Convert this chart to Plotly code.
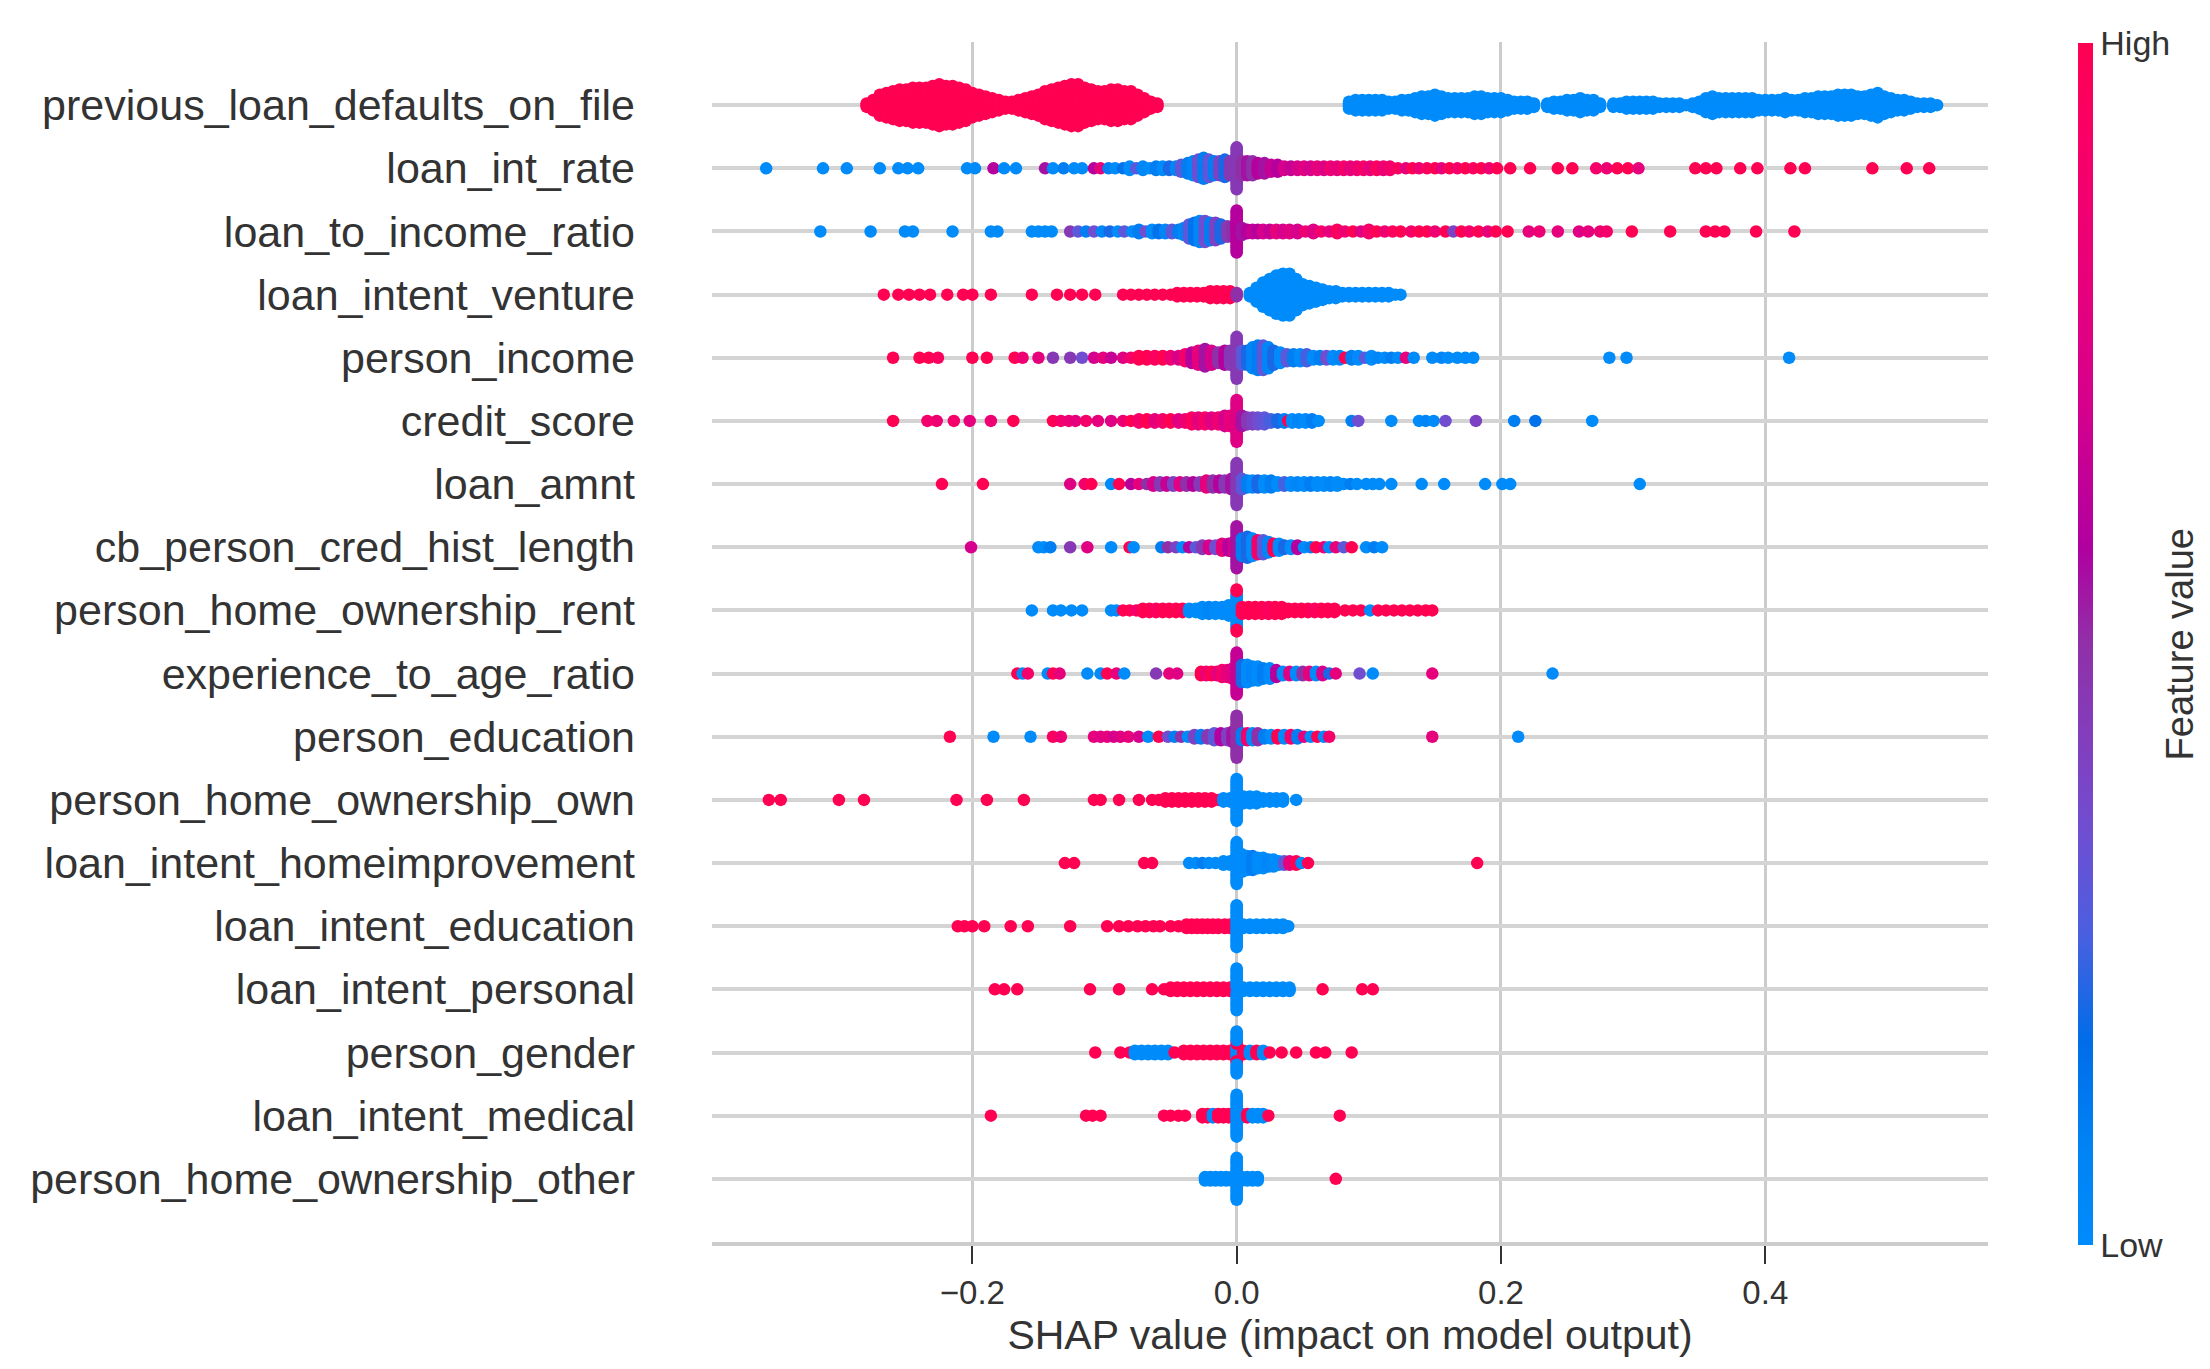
import numpy as np
import plotly.graph_objects as go

# feature order, top to bottom (as in the SHAP summary plot)
features = [
    "previous_loan_defaults_on_file", "loan_int_rate", "loan_to_income_ratio",
    "loan_intent_venture", "person_income", "credit_score", "loan_amnt",
    "cb_person_cred_hist_length", "person_home_ownership_rent",
    "experience_to_age_ratio", "person_education", "person_home_ownership_own",
    "loan_intent_homeimprovement", "loan_intent_education", "loan_intent_personal",
    "person_gender", "loan_intent_medical", "person_home_ownership_other",
]

# each entry: (shap value, number of samples at that value, feature value 0=low .. 1=high)
prev_defaults = [
    (-0.280, 3, 1), (-0.275, 7, 1), (-0.270, 13, 1), (-0.265, 15, 1), (-0.260, 17, 1),
    (-0.255, 19, 1), (-0.250, 19, 1), (-0.245, 21, 1), (-0.240, 21, 1), (-0.235, 21, 1),
    (-0.230, 23, 1), (-0.225, 25, 1), (-0.220, 23, 1), (-0.215, 23, 1), (-0.210, 21, 1),
    (-0.205, 19, 1), (-0.200, 15, 1), (-0.195, 13, 1), (-0.190, 11, 1), (-0.185, 9, 1),
    (-0.180, 7, 1), (-0.175, 5, 1), (-0.170, 5, 1), (-0.165, 7, 1), (-0.160, 9, 1),
    (-0.155, 11, 1), (-0.150, 13, 1), (-0.145, 17, 1), (-0.140, 19, 1), (-0.135, 21, 1),
    (-0.130, 23, 1), (-0.125, 25, 1), (-0.120, 25, 1), (-0.115, 21, 1), (-0.110, 19, 1),
    (-0.105, 17, 1), (-0.100, 17, 1), (-0.095, 19, 1), (-0.090, 19, 1), (-0.085, 17, 1),
    (-0.080, 17, 1), (-0.075, 13, 1), (-0.070, 9, 1), (-0.065, 5, 1), (-0.060, 3, 1),
    (0.085, 5, 0), (0.090, 7, 0), (0.095, 7, 0), (0.100, 7, 0), (0.105, 7, 0),
    (0.110, 7, 0), (0.115, 5, 0), (0.120, 5, 0), (0.125, 7, 0), (0.130, 7, 0),
    (0.135, 9, 0), (0.140, 11, 0), (0.145, 11, 0), (0.150, 13, 0), (0.155, 11, 0),
    (0.160, 9, 0), (0.165, 9, 0), (0.170, 9, 0), (0.175, 9, 0), (0.180, 11, 0),
    (0.185, 11, 0), (0.190, 9, 0), (0.195, 9, 0), (0.200, 9, 0), (0.205, 7, 0),
    (0.210, 5, 0), (0.215, 5, 0), (0.220, 5, 0), (0.225, 3, 0),
    (0.235, 3, 0), (0.240, 5, 0), (0.245, 5, 0), (0.250, 7, 0), (0.255, 7, 0),
    (0.260, 9, 0), (0.265, 7, 0), (0.270, 7, 0), (0.275, 3, 0),
    (0.285, 3, 0), (0.290, 3, 0), (0.295, 5, 0), (0.300, 5, 0), (0.305, 5, 0),
    (0.310, 5, 0), (0.315, 5, 0), (0.320, 3, 0), (0.325, 3, 0), (0.330, 3, 0),
    (0.335, 3, 0), (0.340, 1, 0),
    (0.345, 3, 0), (0.350, 5, 0), (0.355, 9, 0), (0.360, 11, 0), (0.365, 9, 0),
    (0.370, 9, 0), (0.375, 9, 0), (0.380, 9, 0), (0.385, 9, 0), (0.390, 9, 0),
    (0.395, 7, 0), (0.400, 7, 0), (0.405, 7, 0), (0.410, 7, 0), (0.415, 9, 0),
    (0.420, 7, 0), (0.425, 7, 0), (0.430, 9, 0), (0.435, 9, 0), (0.440, 11, 0),
    (0.445, 11, 0), (0.450, 11, 0), (0.455, 13, 0), (0.460, 13, 0), (0.465, 13, 0),
    (0.470, 11, 0), (0.475, 11, 0), (0.480, 13, 0), (0.485, 15, 0), (0.490, 11, 0),
    (0.495, 9, 0), (0.500, 7, 0), (0.505, 7, 0), (0.510, 5, 0), (0.515, 3, 0),
    (0.520, 3, 0), (0.525, 3, 0), (0.530, 1, 0),
]

loan_int_rate = [
    (-0.356, 1, 0), (-0.313, 1, 0), (-0.295, 1, 0), (-0.270, 1, 0), (-0.256, 1, 0),
    (-0.249, 1, 0), (-0.241, 1, 0), (-0.204, 1, 0), (-0.198, 1, 0), (-0.184, 1, 0.6),
    (-0.176, 1, 0), (-0.167, 1, 0), (-0.145, 1, 0.55), (-0.139, 1, 0), (-0.131, 1, 0.1),
    (-0.123, 1, 0), (-0.117, 1, 0), (-0.108, 1, 0.6), (-0.103, 1, 0.8), (-0.097, 1, 0.1),
    (-0.092, 1, 0), (-0.086, 1, 0.15), (-0.081, 3, 0), (-0.076, 1, 0.3), (-0.071, 3, 0.05),
    (-0.066, 1, 0), (-0.061, 3, 0.1), (-0.056, 3, 0), (-0.051, 3, 0.2), (-0.046, 3, 0.05),
    (-0.042, 5, 0.3), (-0.037, 7, 0.1), (-0.033, 9, 0.05), (-0.029, 11, 0.35), (-0.025, 13, 0.1),
    (-0.021, 11, 0.3), (-0.017, 9, 0.1), (-0.013, 9, 0.4), (-0.009, 11, 0.2), (-0.005, 9, 0.45),
    (0.000, 25, 0.45), (0.004, 9, 0.5), (0.008, 9, 0.55), (0.012, 9, 0.5), (0.016, 7, 0.6),
    (0.021, 7, 0.55), (0.026, 5, 0.65), (0.031, 5, 0.6), (0.036, 3, 0.7), (0.041, 3, 0.65),
    (0.046, 3, 0.7), (0.051, 3, 0.75), (0.056, 3, 0.7), (0.061, 3, 0.8), (0.066, 3, 0.75),
    (0.071, 3, 0.85), (0.076, 3, 0.8), (0.081, 3, 0.9), (0.086, 3, 0.8), (0.091, 3, 0.85),
    (0.096, 3, 0.9), (0.101, 3, 0.8), (0.106, 3, 0.95), (0.111, 3, 0.85), (0.116, 3, 0.9),
    (0.122, 1, 0.95), (0.128, 1, 0.8), (0.133, 1, 1), (0.138, 1, 0.85), (0.144, 1, 0.95),
    (0.150, 1, 1), (0.155, 1, 0.8), (0.161, 1, 1), (0.167, 1, 0.9), (0.173, 1, 1),
    (0.179, 1, 0.95), (0.185, 1, 1), (0.191, 1, 0.85), (0.197, 1, 1),
    (0.207, 1, 1), (0.222, 1, 1), (0.243, 1, 1), (0.254, 1, 1), (0.272, 1, 0.9),
    (0.280, 1, 0.85), (0.288, 1, 1), (0.296, 1, 1), (0.304, 1, 0.8), (0.347, 1, 1),
    (0.355, 1, 1), (0.363, 1, 1), (0.381, 1, 1), (0.394, 1, 1), (0.419, 1, 1),
    (0.430, 1, 1), (0.481, 1, 1), (0.507, 1, 1), (0.524, 1, 1),
]

loan_to_income = [
    (-0.315, 1, 0), (-0.277, 1, 0), (-0.251, 1, 0), (-0.245, 1, 0), (-0.215, 1, 0),
    (-0.186, 1, 0), (-0.181, 1, 0), (-0.155, 1, 0), (-0.150, 1, 0), (-0.145, 1, 0),
    (-0.140, 1, 0), (-0.126, 1, 0.45), (-0.120, 1, 0.3), (-0.114, 1, 0.1), (-0.108, 1, 0.35),
    (-0.102, 1, 0.05), (-0.096, 1, 0.2), (-0.090, 1, 0), (-0.085, 1, 0.3), (-0.079, 1, 0),
    (-0.074, 3, 0.1), (-0.069, 1, 0.35), (-0.064, 3, 0), (-0.059, 3, 0.15), (-0.054, 3, 0.05),
    (-0.049, 3, 0.3), (-0.044, 3, 0.1), (-0.040, 5, 0.05), (-0.036, 9, 0.3), (-0.032, 11, 0.15),
    (-0.028, 13, 0.05), (-0.024, 13, 0.35), (-0.020, 11, 0.1), (-0.016, 11, 0.4), (-0.012, 9, 0.2),
    (-0.007, 7, 0.45), (-0.003, 7, 0.5), (0.000, 25, 0.6), (0.004, 5, 0.55), (0.008, 3, 0.6),
    (0.012, 3, 0.65), (0.016, 3, 0.6), (0.020, 3, 0.7), (0.025, 3, 0.65), (0.030, 3, 0.8),
    (0.035, 3, 0.7), (0.040, 3, 0.75), (0.046, 3, 0.7), (0.052, 1, 0.85), (0.058, 3, 0.75),
    (0.064, 1, 0.9), (0.070, 1, 0.8), (0.076, 3, 0.95), (0.082, 1, 0.85), (0.088, 1, 1),
    (0.094, 1, 0.75), (0.100, 3, 0.9), (0.106, 1, 1), (0.112, 1, 0.85), (0.118, 1, 0.95),
    (0.124, 1, 1), (0.132, 1, 0.9), (0.138, 1, 1), (0.144, 1, 1), (0.150, 1, 0.85),
    (0.158, 1, 1), (0.164, 1, 0.4), (0.170, 1, 1), (0.176, 1, 0.9), (0.183, 1, 1),
    (0.190, 1, 0.8), (0.196, 1, 1), (0.205, 1, 1), (0.221, 1, 0.8), (0.229, 1, 0.85),
    (0.243, 1, 0.8), (0.259, 1, 0.75), (0.266, 1, 0.8), (0.275, 1, 0.85), (0.280, 1, 0.9),
    (0.299, 1, 1), (0.328, 1, 1), (0.355, 1, 1), (0.362, 1, 1), (0.369, 1, 1),
    (0.393, 1, 1), (0.422, 1, 1),
]

intent_venture = [
    (-0.267, 1, 1), (-0.256, 1, 1), (-0.248, 1, 1), (-0.240, 1, 1), (-0.232, 1, 1),
    (-0.219, 1, 1), (-0.207, 1, 1), (-0.200, 1, 1), (-0.186, 1, 1), (-0.155, 1, 1),
    (-0.136, 1, 1), (-0.126, 1, 1), (-0.117, 1, 1), (-0.107, 1, 1), (-0.086, 1, 1),
    (-0.080, 1, 1), (-0.074, 1, 1), (-0.068, 1, 1), (-0.062, 1, 1), (-0.056, 1, 1),
    (-0.050, 1, 1), (-0.045, 3, 1), (-0.040, 3, 1), (-0.035, 3, 1), (-0.030, 3, 1),
    (-0.025, 3, 1), (-0.020, 5, 1), (-0.015, 5, 1), (-0.010, 5, 1), (-0.005, 5, 1),
    (0.000, 3, 0.5),
    (0.010, 3, 0), (0.015, 9, 0), (0.020, 15, 0), (0.025, 19, 0), (0.030, 23, 0),
    (0.035, 25, 0), (0.040, 25, 0), (0.045, 19, 0), (0.050, 13, 0), (0.055, 11, 0),
    (0.060, 9, 0), (0.065, 7, 0), (0.070, 5, 0), (0.075, 5, 0), (0.080, 3, 0),
    (0.085, 3, 0), (0.090, 3, 0), (0.095, 3, 0), (0.100, 3, 0), (0.105, 3, 0),
    (0.110, 3, 0), (0.115, 3, 0), (0.120, 1, 0), (0.124, 1, 0),
]

person_income = [
    (-0.260, 1, 1), (-0.240, 1, 1), (-0.233, 1, 1), (-0.226, 1, 0.95), (-0.200, 1, 1),
    (-0.189, 1, 1), (-0.168, 1, 1), (-0.162, 1, 0.85), (-0.150, 1, 0.8), (-0.139, 1, 0.45),
    (-0.126, 1, 0.45), (-0.117, 1, 0.35), (-0.108, 1, 0.7), (-0.101, 1, 0.8), (-0.095, 1, 0.65),
    (-0.086, 1, 0.75), (-0.080, 1, 0.9), (-0.074, 3, 1), (-0.068, 3, 1), (-0.062, 3, 0.95),
    (-0.056, 3, 1), (-0.050, 3, 0.85), (-0.044, 3, 0.7), (-0.039, 5, 0.9), (-0.034, 7, 0.6),
    (-0.029, 9, 0.8), (-0.024, 11, 0.55), (-0.019, 9, 0.7), (-0.014, 7, 0.5), (-0.009, 9, 0.6),
    (-0.005, 9, 0.45), (0.000, 25, 0.45), (0.004, 9, 0.3), (0.008, 9, 0.2), (0.012, 13, 0.05),
    (0.016, 15, 0.1), (0.020, 15, 0.3), (0.024, 13, 0.05), (0.028, 9, 0.2), (0.033, 7, 0),
    (0.038, 5, 0.3), (0.043, 5, 0.1), (0.048, 5, 0), (0.053, 5, 0.25), (0.058, 3, 0),
    (0.063, 3, 0.1), (0.068, 3, 0.35), (0.073, 3, 0), (0.078, 3, 0.05), (0.082, 1, 1),
    (0.087, 3, 0.1), (0.092, 3, 0), (0.097, 1, 0.3), (0.102, 3, 0), (0.107, 1, 0.05),
    (0.112, 1, 0), (0.117, 1, 0.1), (0.122, 1, 0), (0.128, 1, 0.8), (0.134, 1, 0),
    (0.148, 1, 0), (0.155, 1, 0.05), (0.160, 1, 0), (0.167, 1, 0), (0.173, 1, 0),
    (0.179, 1, 0), (0.282, 1, 0), (0.295, 1, 0), (0.418, 1, 0),
]

credit_score = [
    (-0.260, 1, 1), (-0.234, 1, 0.9), (-0.227, 1, 0.85), (-0.214, 1, 0.9), (-0.202, 1, 0.8),
    (-0.186, 1, 0.85), (-0.169, 1, 1), (-0.139, 1, 1), (-0.133, 1, 0.9), (-0.127, 1, 0.85),
    (-0.122, 1, 0.8), (-0.114, 1, 0.9), (-0.105, 1, 0.8), (-0.095, 1, 0.75), (-0.086, 1, 0.85),
    (-0.080, 1, 1), (-0.074, 3, 0.9), (-0.068, 3, 1), (-0.062, 3, 0.8), (-0.056, 3, 0.9),
    (-0.050, 3, 1), (-0.044, 3, 0.75), (-0.039, 3, 0.85), (-0.034, 5, 0.95), (-0.029, 5, 0.8),
    (-0.024, 5, 0.9), (-0.019, 5, 0.75), (-0.014, 5, 0.85), (-0.009, 7, 0.7), (-0.005, 7, 0.8),
    (0.000, 25, 0.75), (0.004, 7, 0.55), (0.008, 5, 0.45), (0.012, 5, 0.4), (0.016, 5, 0.35),
    (0.021, 5, 0.3), (0.026, 3, 0.25), (0.031, 3, 0.2), (0.036, 3, 0.1), (0.039, 1, 1),
    (0.042, 3, 0), (0.047, 3, 0.05), (0.052, 3, 0), (0.057, 3, 0.1), (0.062, 1, 0),
    (0.087, 1, 0.1), (0.092, 1, 0.35), (0.117, 1, 0), (0.138, 1, 0), (0.143, 1, 0.05),
    (0.149, 1, 0), (0.158, 1, 0.35), (0.181, 1, 0.4), (0.210, 1, 0.1), (0.226, 1, 0.15),
    (0.269, 1, 0),
]

loan_amnt = [
    (-0.223, 1, 1), (-0.192, 1, 1), (-0.126, 1, 0.75), (-0.115, 1, 0.9), (-0.110, 1, 1),
    (-0.095, 1, 0), (-0.089, 1, 1), (-0.080, 1, 0.6), (-0.074, 1, 0.8), (-0.068, 1, 0.5),
    (-0.063, 3, 0.7), (-0.058, 3, 0.45), (-0.053, 3, 0.65), (-0.048, 3, 0.4), (-0.043, 3, 0.75),
    (-0.038, 3, 0.5), (-0.033, 3, 0.6), (-0.028, 3, 0.45), (-0.023, 5, 0.8), (-0.018, 5, 0.5),
    (-0.013, 5, 0.6), (-0.009, 5, 0.45), (-0.004, 7, 0.55), (0.000, 25, 0.45), (0.004, 7, 0.3),
    (0.008, 5, 0.1), (0.012, 5, 0), (0.016, 5, 0.2), (0.021, 5, 0), (0.026, 5, 0.1),
    (0.031, 3, 0), (0.036, 3, 0.25), (0.041, 3, 0), (0.046, 3, 0.05), (0.051, 3, 0),
    (0.056, 3, 0.1), (0.061, 3, 0), (0.066, 3, 0), (0.071, 3, 0.05), (0.076, 3, 0),
    (0.081, 1, 0), (0.086, 1, 0.1), (0.091, 1, 0), (0.098, 1, 0), (0.103, 1, 0),
    (0.108, 1, 0), (0.117, 1, 0), (0.140, 1, 0), (0.157, 1, 0), (0.188, 1, 0),
    (0.201, 1, 0), (0.207, 1, 0), (0.305, 1, 0),
]

cred_hist_length = [
    (-0.201, 1, 0.7), (-0.150, 1, 0), (-0.146, 1, 0), (-0.141, 1, 0.1), (-0.126, 1, 0.45),
    (-0.113, 1, 0.75), (-0.095, 1, 0), (-0.081, 1, 1), (-0.078, 1, 0), (-0.057, 1, 0.1),
    (-0.052, 1, 0.5), (-0.046, 1, 0.4), (-0.041, 1, 0), (-0.036, 1, 0.6), (-0.031, 1, 0.3),
    (-0.026, 3, 0.45), (-0.021, 3, 0.7), (-0.016, 3, 0.35), (-0.011, 5, 0.8), (-0.006, 5, 0.6),
    (-0.002, 7, 0.7), (0.000, 25, 0.55), (0.004, 11, 0.1), (0.008, 13, 0.2), (0.012, 11, 0),
    (0.016, 9, 0.9), (0.020, 9, 0.3), (0.024, 7, 0.05), (0.028, 5, 1), (0.032, 5, 0),
    (0.036, 3, 0.2), (0.041, 3, 0), (0.046, 3, 0.6), (0.051, 1, 0), (0.056, 1, 0.1),
    (0.060, 1, 1), (0.066, 1, 0.85), (0.070, 1, 0), (0.075, 1, 0.8), (0.081, 1, 0.3),
    (0.087, 1, 1), (0.098, 1, 0), (0.104, 1, 0.1), (0.110, 1, 0),
]

home_rent = [
    (-0.155, 1, 0), (-0.139, 1, 0), (-0.133, 1, 0), (-0.125, 1, 0), (-0.117, 1, 0),
    (-0.095, 1, 0), (-0.091, 1, 0), (-0.086, 1, 1), (-0.081, 1, 1), (-0.076, 1, 0.9),
    (-0.071, 3, 1), (-0.066, 3, 1), (-0.061, 3, 0.95), (-0.056, 3, 1), (-0.051, 3, 1),
    (-0.046, 3, 1), (-0.041, 3, 1), (-0.036, 3, 0), (-0.031, 3, 0), (-0.026, 5, 0),
    (-0.021, 5, 0.05), (-0.016, 5, 0), (-0.011, 5, 0), (-0.006, 7, 0), (0.000, 21, 0),
    (0.000, 4, 1), (0.004, 5, 1), (0.009, 5, 1), (0.014, 5, 1), (0.019, 5, 1),
    (0.024, 5, 0.95), (0.029, 5, 1), (0.034, 5, 1), (0.039, 3, 1), (0.044, 3, 1),
    (0.049, 3, 1), (0.054, 3, 1), (0.059, 3, 0.95), (0.064, 3, 1), (0.069, 3, 1),
    (0.074, 3, 1), (0.082, 1, 1), (0.088, 1, 1), (0.094, 1, 1), (0.101, 1, 0),
    (0.107, 1, 1), (0.113, 1, 1), (0.119, 1, 1), (0.125, 1, 1), (0.131, 1, 1),
    (0.137, 1, 1), (0.143, 1, 1), (0.148, 1, 1),
]

exp_to_age = [
    (-0.166, 1, 1), (-0.162, 1, 0), (-0.158, 1, 0.9), (-0.143, 1, 0), (-0.139, 1, 1),
    (-0.134, 1, 0.8), (-0.113, 1, 0), (-0.103, 1, 0), (-0.098, 1, 1), (-0.091, 1, 0.8),
    (-0.085, 1, 0), (-0.061, 1, 0.45), (-0.051, 1, 0.8), (-0.045, 1, 0.75), (-0.027, 3, 1),
    (-0.023, 3, 0.85), (-0.019, 3, 1), (-0.015, 3, 0.8), (-0.011, 5, 0.9), (-0.007, 5, 0.8),
    (-0.003, 7, 0.75), (0.000, 25, 0.65), (0.004, 11, 0.2), (0.008, 11, 0), (0.012, 9, 0.05),
    (0.016, 9, 0), (0.020, 7, 0.1), (0.025, 7, 0), (0.030, 5, 0.6), (0.035, 3, 0),
    (0.040, 3, 0.75), (0.045, 3, 0), (0.050, 3, 0.5), (0.055, 3, 0.8), (0.060, 3, 0),
    (0.065, 3, 0.7), (0.070, 1, 0.2), (0.075, 1, 0.8), (0.093, 1, 0.35), (0.103, 1, 0),
    (0.148, 1, 0.8), (0.239, 1, 0),
]

person_education = [
    (-0.217, 1, 1), (-0.184, 1, 0), (-0.156, 1, 0), (-0.139, 1, 0.95), (-0.133, 1, 0.85),
    (-0.108, 1, 0.8), (-0.103, 1, 0.75), (-0.098, 1, 0.8), (-0.093, 1, 0.7), (-0.088, 1, 0.75),
    (-0.082, 1, 0.8), (-0.074, 1, 0.7), (-0.067, 1, 0), (-0.059, 1, 1), (-0.052, 1, 0.35),
    (-0.047, 1, 0.1), (-0.042, 1, 0.5), (-0.037, 1, 0), (-0.032, 3, 0.4), (-0.027, 3, 0.1),
    (-0.022, 3, 0.45), (-0.017, 5, 0.3), (-0.012, 5, 0.6), (-0.007, 5, 0.4), (-0.003, 7, 0.55),
    (0.000, 25, 0.5), (0.004, 5, 0.1), (0.008, 5, 0.9), (0.012, 5, 0), (0.016, 5, 0.5),
    (0.021, 3, 0.1), (0.026, 3, 0), (0.031, 3, 1), (0.036, 3, 0), (0.041, 3, 0.9),
    (0.046, 3, 0.1), (0.051, 1, 0.8), (0.056, 1, 0), (0.061, 1, 1), (0.066, 1, 0),
    (0.070, 1, 0.9), (0.148, 1, 0.8), (0.213, 1, 0),
]

home_own = [
    (-0.354, 1, 1), (-0.345, 1, 1), (-0.301, 1, 1), (-0.282, 1, 1), (-0.212, 1, 1),
    (-0.189, 1, 1), (-0.161, 1, 1), (-0.108, 1, 1), (-0.103, 1, 1), (-0.089, 1, 1),
    (-0.074, 1, 1), (-0.064, 1, 1), (-0.059, 1, 1), (-0.054, 3, 1), (-0.049, 3, 1),
    (-0.044, 3, 1), (-0.039, 3, 1), (-0.034, 3, 1), (-0.029, 3, 1), (-0.024, 3, 1),
    (-0.019, 3, 1), (-0.014, 1, 1), (-0.010, 3, 0), (-0.005, 3, 0), (0.000, 25, 0),
    (0.005, 5, 0), (0.010, 5, 0), (0.015, 5, 0), (0.020, 3, 0), (0.025, 3, 0),
    (0.030, 3, 0), (0.035, 3, 0), (0.045, 1, 0),
]

intent_homeimprovement = [
    (-0.130, 1, 1), (-0.123, 1, 1), (-0.070, 1, 1), (-0.064, 1, 1), (-0.036, 1, 0),
    (-0.031, 1, 0), (-0.026, 1, 0.1), (-0.021, 1, 0), (-0.016, 1, 0), (-0.010, 3, 0),
    (-0.005, 3, 0), (0.000, 25, 0), (0.004, 11, 0), (0.008, 9, 0), (0.012, 9, 0.1),
    (0.016, 7, 0), (0.020, 7, 0), (0.024, 5, 0.05), (0.028, 5, 0), (0.032, 3, 0),
    (0.036, 3, 0.3), (0.040, 3, 0.8), (0.045, 3, 1), (0.049, 1, 0), (0.054, 1, 1),
    (0.182, 1, 1),
]

intent_education = [
    (-0.211, 1, 1), (-0.206, 1, 1), (-0.200, 1, 1), (-0.191, 1, 1), (-0.171, 1, 1),
    (-0.158, 1, 1), (-0.126, 1, 1), (-0.098, 1, 1), (-0.089, 1, 1), (-0.082, 1, 1),
    (-0.075, 1, 1), (-0.069, 1, 1), (-0.063, 1, 1), (-0.058, 1, 1), (-0.050, 1, 1),
    (-0.044, 1, 1), (-0.038, 3, 1), (-0.034, 3, 1), (-0.030, 3, 1), (-0.026, 3, 1),
    (-0.022, 3, 1), (-0.018, 3, 1), (-0.014, 3, 1), (-0.009, 3, 1), (-0.005, 3, 1),
    (0.000, 25, 0), (0.005, 3, 0), (0.010, 3, 0), (0.015, 3, 0), (0.020, 3, 0),
    (0.025, 3, 0), (0.030, 3, 0), (0.035, 3, 0), (0.039, 1, 0),
]

intent_personal = [
    (-0.183, 1, 1), (-0.176, 1, 1), (-0.166, 1, 1), (-0.111, 1, 1), (-0.089, 1, 1),
    (-0.064, 1, 1), (-0.055, 1, 1), (-0.050, 3, 1), (-0.045, 3, 1), (-0.040, 3, 1),
    (-0.035, 3, 1), (-0.030, 3, 1), (-0.025, 3, 1), (-0.020, 3, 1), (-0.015, 3, 1),
    (-0.010, 3, 1), (-0.005, 3, 1), (0.000, 2, 0), (0.000, 1, 1), (0.000, 22, 0),
    (0.005, 3, 0), (0.010, 3, 0), (0.015, 3, 0), (0.020, 3, 0), (0.025, 3, 0),
    (0.030, 3, 0), (0.035, 3, 0), (0.040, 3, 0), (0.065, 1, 1), (0.095, 1, 1),
    (0.103, 1, 1),
]

person_gender = [
    (-0.107, 1, 1), (-0.088, 1, 1), (-0.081, 1, 1), (-0.077, 3, 0), (-0.072, 3, 0),
    (-0.067, 3, 0), (-0.062, 3, 0), (-0.057, 3, 0), (-0.052, 3, 0), (-0.047, 1, 1),
    (-0.040, 3, 1), (-0.035, 3, 1), (-0.030, 3, 1), (-0.025, 3, 1), (-0.020, 3, 1),
    (-0.015, 3, 1), (-0.010, 3, 1), (-0.005, 3, 1), (0.000, 9, 0), (0.000, 4, 1),
    (0.000, 12, 0), (0.005, 3, 1), (0.010, 3, 0), (0.015, 3, 1), (0.020, 3, 0),
    (0.025, 1, 1), (0.034, 1, 1), (0.045, 1, 1), (0.060, 1, 1), (0.067, 1, 1),
    (0.087, 1, 1),
]

intent_medical = [
    (-0.186, 1, 1), (-0.114, 1, 1), (-0.109, 1, 1), (-0.103, 1, 1), (-0.055, 1, 1),
    (-0.050, 1, 1), (-0.044, 1, 1), (-0.039, 1, 1), (-0.026, 3, 1), (-0.022, 3, 1),
    (-0.018, 3, 0), (-0.014, 3, 1), (-0.010, 3, 1), (-0.006, 3, 1), (0.000, 25, 0),
    (0.004, 3, 0), (0.008, 3, 1), (0.012, 3, 0), (0.016, 3, 0), (0.020, 3, 0),
    (0.024, 1, 1), (0.078, 1, 1),
]

home_other = [
    (-0.024, 3, 0), (-0.020, 3, 0), (-0.016, 3, 0), (-0.012, 3, 0), (-0.008, 3, 0),
    (-0.004, 3, 0), (0.000, 25, 0), (0.004, 3, 0), (0.008, 3, 0), (0.012, 3, 0),
    (0.016, 3, 0), (0.075, 1, 1),
]

rows = [
    prev_defaults, loan_int_rate, loan_to_income, intent_venture, person_income,
    credit_score, loan_amnt, cred_hist_length, home_rent, exp_to_age,
    person_education, home_own, intent_homeimprovement, intent_education,
    intent_personal, person_gender, intent_medical, home_other,
]

tick_vals = [-0.2, 0.0, 0.2, 0.4]
tick_text = ["\u22120.2", "0.0", "0.2", "0.4"]

# shap red_blue colormap (approx.)
red_blue = [
    [0.00, "#008bfb"], [0.08, "#0083f5"], [0.17, "#006de8"], [0.26, "#4b5fe0"],
    [0.34, "#6e4fd2"], [0.41, "#8040c0"], [0.50, "#9030a8"], [0.58, "#b000a0"],
    [0.70, "#d6008c"], [0.81, "#e9007a"], [0.92, "#f80066"], [1.00, "#ff0052"],
]

ROW_HEIGHT = 0.4
n_feat = len(features)


def swarm(xs):
    # same stacking as shap's beeswarm: samples sharing a value go alternately up / down
    order = np.argsort(xs, kind="stable")
    ys = np.zeros(len(xs))
    layer, last = 0, None
    for i in order:
        if xs[i] != last:
            layer = 0
        ys[i] = np.ceil(layer / 2) * ((layer % 2) * 2 - 1)
        layer += 1
        last = xs[i]
    ys *= 0.9 * (ROW_HEIGHT / np.max(ys + 1))
    return ys


all_x, all_y, all_c = [], [], []
for k, row in enumerate(rows):
    xs, cs = [], []
    for v, n, c in row:
        xs += [v] * n
        cs += [c] * n
    xs = np.array(xs)
    pos = n_feat - 1 - k
    all_x += list(xs)
    all_y += list(pos + swarm(xs))
    all_c += cs

FONT = "Liberation Sans, Arial, sans-serif"

fig = go.Figure(go.Scatter(
    x=all_x, y=all_y, mode="markers", hoverinfo="skip",
    marker=dict(
        size=12.5, color=all_c, colorscale=red_blue, cmin=0, cmax=1,
        line=dict(width=0), opacity=1,
        showscale=True,
        colorbar=dict(
            x=1.0627, xanchor="left", y=0.498, yanchor="middle",
            lenmode="pixels", len=1202, ypad=0,
            thickness=15, outlinewidth=0, ticks="", ticklen=0,
            tickvals=[0, 1], ticktext=["Low", "High"],
            tickfont=dict(size=34, color="#333333", family=FONT),
        ),
    ),
))

fig.update_layout(
    width=2210, height=1369,
    margin=dict(l=704, r=230, t=34, b=135),
    paper_bgcolor="white", plot_bgcolor="white",
    showlegend=False,
    font=dict(family=FONT, color="#333333"),
    xaxis=dict(
        range=[-0.397, 0.5685], tickvals=tick_vals, ticktext=tick_text,
        showgrid=True, gridcolor="#cccccc", gridwidth=2.5, zeroline=False,
        showline=True, linecolor="#cccccc", linewidth=4,
        ticks="outside", ticklen=18, tickwidth=2, tickcolor="#333333",
        tickfont=dict(size=33, color="#333333"),
        title=dict(text="SHAP value (impact on model output)",
                   font=dict(size=41, color="#333333"), standoff=12),
    ),
    yaxis=dict(
        range=[-1, n_feat], tickvals=list(range(n_feat)),
        ticktext=features[::-1],
        showgrid=True, gridcolor="#d4d4d4", gridwidth=4, zeroline=False,
        showline=False, ticks="", ticklabelstandoff=76,
        tickfont=dict(size=43, color="#333333"),
    ),
    annotations=[dict(
        text="Feature value", textangle=-90, showarrow=False,
        xref="paper", yref="paper", x=1.1505, y=0.498,
        xanchor="center", yanchor="middle",
        font=dict(size=38, color="#333333", family=FONT),
    )],
)

fig.write_html("out.html")
